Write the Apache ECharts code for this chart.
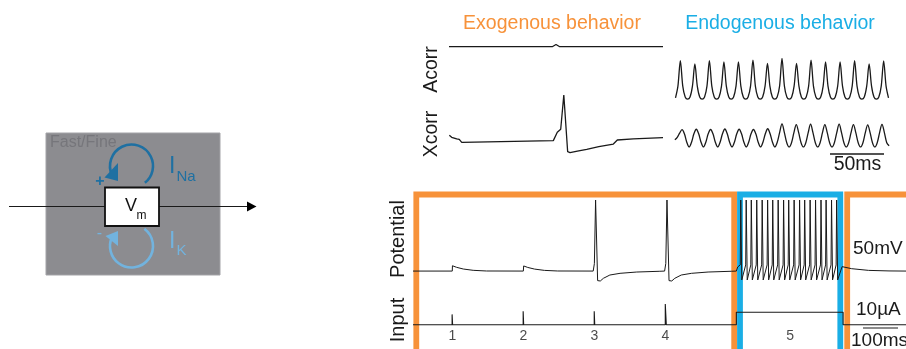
<!DOCTYPE html>
<html><head><meta charset="utf-8">
<script src="https://cdn.jsdelivr.net/npm/echarts@6/dist/echarts.min.js"></script>
<style>html,body{margin:0;padding:0;background:#fff}#c{width:906px;height:349px}</style>
</head><body><div id="c"></div><script>
// ---- data ----
// Exogenous auto-/cross-correlation: [lag ms, normalized value]
const exoAcorr = [[-100,0.33],[-3.5,0.33],[0,0.55],[3.5,0.33],[100,0.33]];
const exoXcorr = [[-99.7,0.33],[-97.5,0.295],[-92.8,0.267],[-90.4,0.26],[-88.1,0.21],[-2.5,0.24],[1.2,0.38],[4.4,0.43],[7.3,1.0],[10.9,0.055],[13.1,0.04],[20,0.065],[28.7,0.095],[40,0.14],[53.6,0.183],[57.3,0.25],[72.2,0.27],[100,0.29]];
// Endogenous traces, sampled every step ms, centred on lag 0
const endoAcorrStep = 2.262;
const endoAcorr = [0.05,0.33,0.935,0.33,0.07,0.02,0.07,0.33,
 0.86,0.33,0.07,0.02,0.07,0.33,
 0.935,0.33,0.07,0.02,0.07,0.33,
 0.905,0.33,0.07,0.02,0.07,0.33,
 0.91,0.33,0.07,0.02,0.07,0.33,
 0.95,0.33,0.07,0.02,0.07,0.33,
 0.87,0.33,0.07,0.02,0.07,0.33,
 0.99,0.33,0.07,0.02,0.07,0.33,
 0.87,0.33,0.07,0.02,0.07,0.33,
 0.95,0.33,0.07,0.02,0.07,0.33,
 0.91,0.33,0.07,0.02,0.07,0.33,
 0.905,0.33,0.07,0.02,0.07,0.33,
 0.935,0.33,0.07,0.02,0.07,0.33,
 0.86,0.33,0.07,0.02,0.07,0.33,
 0.93,0.33,0.05];
const endoXcorrStep = 2.225;
const endoXcorr = [0.3,0.4,0.58,
 0.72,0.55,0.2,0,0.2,0.55,
 0.74,0.55,0.2,0,0.2,0.55,
 0.73,0.55,0.2,0,0.2,0.55,
 0.75,0.55,0.2,0,0.2,0.55,
 0.74,0.55,0.2,0,0.2,0.55,
 0.73,0.55,0.2,0,0.2,0.55,
 0.76,0.55,0.2,0,0.2,0.6,
 0.96,0.6,0.18,0,0.18,0.6,
 0.93,0.6,0.18,0,0.18,0.6,
 0.95,0.6,0.18,0,0.18,0.6,
 0.93,0.6,0.18,0,0.18,0.6,
 0.95,0.6,0.18,0,0.18,0.6,
 0.93,0.6,0.18,0,0.18,0.6,
 0.92,0.6,0.18,0,0.18,0.6,
 0.94,0.6,0.18,0.05];
// Membrane potential: [time ms, mV]
const potential = [
 [0,-65],[115.5,-65],[116,-57.2],[128,-59.5],[148,-62],[177,-63.9],[216,-64.9],
 [324.5,-65],[325.5,-57.5],[337.5,-59.7],[357.5,-62.1],[386.5,-64],[425.5,-64.9],
 [530,-65],[533.5,-54],[537,39],[543,-79],[547,-80.6],[551,-79.5],[560,-75.6],[579,-70.8],[609,-68.3],[658,-66.4],[726,-65.3],
 [740,-65],[743.5,-54],[747,39],[753,-79],[757,-80.6],[761,-79.5],[770,-75.6],[789,-70.8],[819,-68.3],[868,-66.4],[936,-65.3],
 [951,-65],[955,-59],[962.5,-56],[964,39],[967,-78],
 [978.5,-56],[980,39],[983,-78],
 [993.5,-56],[995,39],[998,-78],
 [1009.5,-56],[1011,39],[1014,-78],
 [1025.5,-56],[1027,39],[1030,-78],
 [1041.5,-56],[1043,39],[1046,-78],
 [1056.5,-56],[1058,39],[1061,-78],
 [1072.5,-56],[1074,39],[1077,-78],
 [1088.5,-56],[1090,39],[1093,-78],
 [1103.5,-56],[1105,39],[1108,-78],
 [1119.5,-56],[1121,39],[1124,-78],
 [1135.5,-56],[1137,39],[1140,-78],
 [1150.5,-56],[1152,39],[1155,-78],
 [1166.5,-56],[1168,39],[1171,-78],
 [1182.5,-56],[1184,39],[1187,-78],
 [1198.5,-56],[1200,39],[1203,-78],
 [1213.5,-56],[1215,39],[1218,-78],
 [1229.5,-56],[1231,39],[1234,-78],
 [1244.5,-56],[1246,39],[1249,-78],
 [1262,-58.5],[1290,-61.5],[1340,-64],[1400,-64.8],[1450,-65]];
// Input current: [time ms, µA]
const inputCurrent = [[0,0],[115,0],[115,8],[116.5,8],[116.5,0],[324,0],[324,10.5],[325.5,10.5],[325.5,0],
 [533,0],[533,10.5],[534.5,10.5],[534.5,0],[742,0],[742,16],[745,16],[745,0],
 [951,0],[951,9.7],[1265,9.7],[1265,0],[1450,0]];
const pulseLabels = ['1','2','3','4','5'];
const pulseLabelTimes = [115.7,324.5,533.3,742.2,1109];

// ---- chart ----
const FONT = '"Liberation Sans", Arial, Helvetica, sans-serif';
const INK = '#1a1a1a';
const ORANGE = '#f7923a', BLUE = '#1aaee5', DBLUE = '#1f70a2', LBLUE = '#72b3de';
const sampled = (vals, step, c) => vals.map((v, i) => [(i - c) * step, v]);

const grids = [
  {left:449, top:40, width:214, height:10},     // exo acorr
  {left:449, top:95, width:214, height:60},     // exo xcorr
  {left:675, top:58, width:214, height:42},     // endo acorr
  {left:675, top:123, width:214, height:24},    // endo xcorr
  {left:413, top:200, width:493, height:82},    // potential
  {left:413, top:298.8, width:493, height:41.6} // input
];
const xr = [[-100,100],[-100,100],[-100,100],[-100,100],[0,1450],[0,1450]];
const yr = [[0,1],[0,1],[0,1],[0,1],[-81,39],[-12,20]];
const xAxis = xr.map((r,i)=>({type:'value',gridIndex:i,min:r[0],max:r[1],show:false}));
const yAxis = yr.map((r,i)=>({type:'value',gridIndex:i,min:r[0],max:r[1],show:false}));

function line(i, data, w, smooth) {
  return {type:'line', xAxisIndex:i, yAxisIndex:i, data, showSymbol:false, symbol:'none',
    smooth: smooth || false, lineStyle:{color:INK, width:w}, silent:true, z:5};
}

const T = (text, x, y, size, color, extra) => Object.assign({type:'text', x, y, z:10,
  style:Object.assign({text, fill:color, font: size + 'px ' + FONT, fontSize:size, fontFamily:FONT,
    textAlign:'center', align:'center', textVerticalAlign:'middle', verticalAlign:'middle'}, extra && extra.style || {})},
  extra && extra.el || {});

const graphic = [
  // Left diagram
  {type:'rect', z:1, shape:{x:46, y:133, width:174, height:142}, style:{fill:'#8c8c90', stroke:'#a3a3a7', lineWidth:1}},
  T('Fast/Fine', 50, 143, 16, '#76767b', {style:{textAlign:'left', align:'left'}}),
  {type:'arc', z:2, shape:{cx:131.5, cy:166, r:21.5, startAngle:-3.6, endAngle:0.9, clockwise:true}, style:{stroke:DBLUE, lineWidth:2.6, fill:'none'}},
  {type:'polygon', z:3, shape:{points:[[118,163],[118,181],[104.5,177.5]]}, style:{fill:DBLUE}},
  {type:'arc', z:2, shape:{cx:131.5, cy:246, r:21.5, startAngle:-0.93, endAngle:3.55, clockwise:true}, style:{stroke:LBLUE, lineWidth:2.6, fill:'none'}},
  {type:'polygon', z:3, shape:{points:[[118,231],[118,246],[105.5,236]]}, style:{fill:LBLUE}},
  T('+', 100, 182, 16, DBLUE, {style:{font:'bold 16px ' + FONT, fontWeight:'bold'}}),
  T('-', 99.5, 234, 16, LBLUE),
  T('I', 169, 167, 23, DBLUE, {style:{textAlign:'left', align:'left'}}),
  T('Na', 176.5, 176.5, 15, DBLUE, {style:{textAlign:'left', align:'left'}}),
  T('I', 169, 241.5, 23, LBLUE, {style:{textAlign:'left', align:'left'}}),
  T('K', 176.5, 251, 15, LBLUE, {style:{textAlign:'left', align:'left'}}),
  {type:'line', z:4, shape:{x1:9, y1:206.5, x2:248, y2:206.5}, style:{stroke:INK, lineWidth:1.2}},
  {type:'polygon', z:4, shape:{points:[[247,201.5],[256.5,206.5],[247,211.5]]}, style:{fill:'#000'}},
  {type:'rect', z:5, shape:{x:105, y:187.5, width:54, height:38.5}, style:{fill:'#fff', stroke:'#111', lineWidth:1.8}},
  T('V', 131, 206.5, 18, '#111'),
  T('m', 141.5, 216, 12, '#111'),
  // Titles and row labels
  T('Exogenous behavior', 552, 24, 19.5, ORANGE),
  T('Endogenous behavior', 780, 24, 19.5, BLUE),
  T('Acorr', 432, 69.5, 19.5, INK, {el:{rotation:Math.PI/2}}),
  T('Xcorr', 432, 134, 19.5, INK, {el:{rotation:Math.PI/2}}),
  T('Potential', 398.5, 239, 20, INK, {el:{rotation:Math.PI/2}}),
  T('Input', 398.5, 320, 20, INK, {el:{rotation:Math.PI/2}}),
  // Scale bars
  {type:'line', z:4, shape:{x1:830, y1:154, x2:884, y2:154}, style:{stroke:INK, lineWidth:1.3}},
  T('50ms', 857.5, 165, 19.5, INK),
  T('50mV', 853, 249, 19, INK, {style:{textAlign:'left', align:'left'}}),
  T('10µA', 856, 310, 19, INK, {style:{textAlign:'left', align:'left'}}),
  {type:'line', z:4, shape:{x1:863, y1:328, x2:898, y2:328}, style:{stroke:INK, lineWidth:1.2}},
  T('100ms', 851, 340.5, 19, INK, {style:{textAlign:'left', align:'left'}}),
  // Behaviour frames
  {type:'rect', z:0, shape:{x:416.3, y:194.5, width:317.9, height:200}, style:{fill:'none', stroke:ORANGE, lineWidth:5.8}},
  {type:'rect', z:0, shape:{x:740, y:194.5, width:100.3, height:200}, style:{fill:'none', stroke:BLUE, lineWidth:5.8}},
  {type:'rect', z:0, shape:{x:847.2, y:194.5, width:150, height:200}, style:{fill:'none', stroke:ORANGE, lineWidth:5.8}}
];

const option = {
  animation:false,
  backgroundColor:'#fff',
  grid: grids,
  xAxis, yAxis,
  graphic: {elements: graphic},
  series: [
    line(0, exoAcorr, 1.3),
    line(1, exoXcorr, 1.3),
    line(2, sampled(endoAcorr, endoAcorrStep, 44), 1.3, 0.3),
    line(3, sampled(endoXcorr, endoXcorrStep, 45), 1.3, 0.35),
    line(4, potential, 1.0),
    line(5, inputCurrent, 1.1),
    {type:'scatter', xAxisIndex:5, yAxisIndex:5, symbolSize:1, itemStyle:{color:'transparent'}, silent:true,
     data: pulseLabelTimes.map((t,i)=>({value:[t,-8.8], name:pulseLabels[i]})),
     label:{show:true, position:'inside', formatter:p=>p.name, color:INK, fontSize:14, fontFamily:FONT}}
  ]
};
echarts.init(document.getElementById('c'), null, {renderer:'canvas'}).setOption(option);
</script></body></html>
